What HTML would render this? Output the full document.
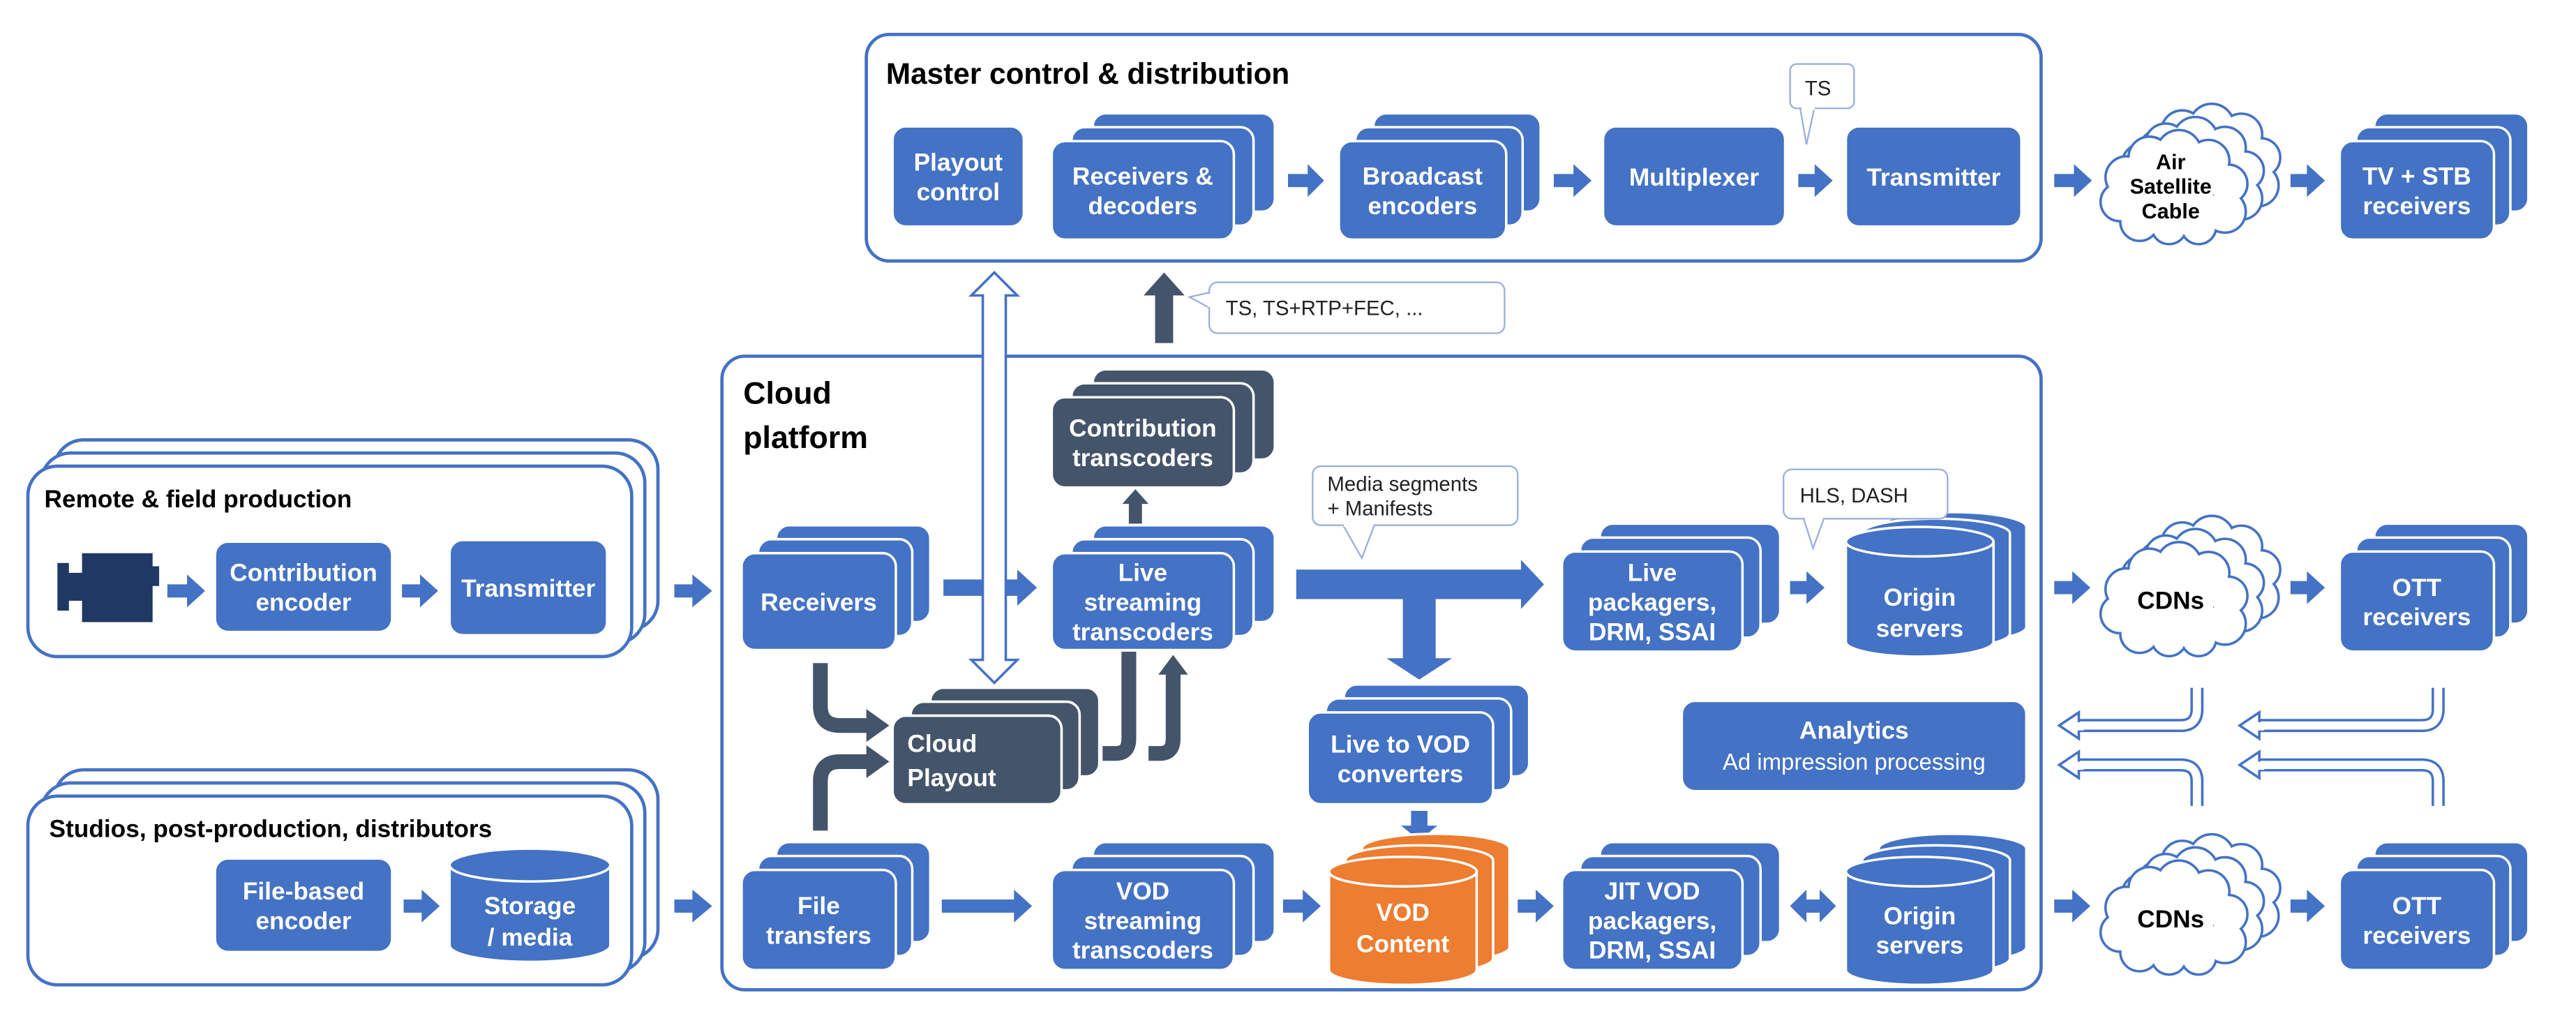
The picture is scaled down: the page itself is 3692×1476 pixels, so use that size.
<!DOCTYPE html>
<html><head><meta charset="utf-8"><style>
html,body{margin:0;padding:0;background:#fff}
svg{display:block}
.t{fill:#fff;font-family:"Liberation Sans",Arial,sans-serif;font-weight:bold;font-size:15px;text-anchor:middle}
.k{fill:#000;font-family:"Liberation Sans",Arial,sans-serif;font-weight:bold;text-anchor:middle}
.s{fill:#222;font-family:"Liberation Sans",Arial,sans-serif;font-size:12.5px}
.b{fill:#4472C4;stroke:#fff;stroke-width:1.5}
.d{fill:#44546A;stroke:#fff;stroke-width:1.5}
.o{fill:#ED7D31;stroke:#fff;stroke-width:1.5}
.a{fill:#4472C4}
.cb{fill:#fff;stroke:#9DB0D8;stroke-width:1}
</style></head><body>
<svg width="3692" height="1476" viewBox="0 0 1570 627.5" preserveAspectRatio="none" xmlns="http://www.w3.org/2000/svg">
<defs>
<g id="cl">
<g fill="#fff" stroke="#4472C4" stroke-width="3">
<circle cx="16" cy="26" r="12"/><circle cx="30" cy="14" r="12"/><circle cx="48" cy="11" r="13"/><circle cx="66" cy="16" r="12"/><circle cx="78" cy="30" r="11"/><circle cx="76" cy="47" r="12"/><circle cx="60" cy="56" r="10"/><circle cx="42" cy="56" r="10"/><circle cx="24" cy="53" r="11"/><circle cx="12" cy="41" r="11"/></g>
<g fill="#fff"><circle cx="16" cy="26" r="12"/><circle cx="30" cy="14" r="12"/><circle cx="48" cy="11" r="13"/><circle cx="66" cy="16" r="12"/><circle cx="78" cy="30" r="11"/><circle cx="76" cy="47" r="12"/><circle cx="60" cy="56" r="10"/><circle cx="42" cy="56" r="10"/><circle cx="24" cy="53" r="11"/><circle cx="12" cy="41" r="11"/><circle cx="45" cy="34" r="24"/></g>
</g>
</defs>

<!-- Master control box -->
<rect x="528" y="21" width="716" height="138" rx="14" fill="#fff" stroke="#4472C4" stroke-width="2"/>
<text x="540" y="51" style="font-family:'Liberation Sans',Arial,sans-serif;font-weight:bold;font-size:18px">Master control &amp; distribution</text>

<rect x="544" y="77" width="80" height="61" rx="8" class="b"/>
<text class="t" x="584" y="104">Playout</text><text class="t" x="584" y="122">control</text>

<rect x="666" y="69" width="111" height="60" rx="8" class="b"/><rect x="653" y="77.5" width="111" height="60" rx="8" class="b"/><rect x="641" y="86" width="111" height="60" rx="8" class="b"/>
<text class="t" x="696.5" y="112.5">Receivers &amp;</text><text class="t" x="696.5" y="130.5">decoders</text>

<rect x="837" y="69" width="102" height="60" rx="8" class="b"/><rect x="826" y="77.5" width="102" height="60" rx="8" class="b"/><rect x="816" y="86" width="102" height="60" rx="8" class="b"/>
<text class="t" x="867" y="112.5">Broadcast</text><text class="t" x="867" y="130.5">encoders</text>

<rect x="977" y="77" width="111" height="61" rx="8" class="b"/>
<text class="t" x="1032.5" y="113">Multiplexer</text>
<rect x="1125" y="77" width="107" height="61" rx="8" class="b"/>
<text class="t" x="1178.5" y="113">Transmitter</text>

<rect x="1447" y="69" width="94" height="60" rx="8" class="b"/><rect x="1436" y="77.5" width="94" height="60" rx="8" class="b"/><rect x="1426" y="86" width="94" height="60" rx="8" class="b"/>
<text class="t" x="1473" y="112.5">TV + STB</text><text class="t" x="1473" y="130.5">receivers</text>

<!-- Air cloud -->
<use href="#cl" x="1300" y="66"/><use href="#cl" x="1290" y="74"/><use href="#cl" x="1280" y="82"/>
<text class="k" font-size="13" x="1323" y="103">Air</text><text class="k" font-size="13" x="1323" y="118">Satellite</text><text class="k" font-size="13" x="1323" y="133">Cable</text>

<!-- master arrows -->
<polygon class="a" points="785,106 797,106 797,100 807,110 797,120 797,114 785,114"/>
<polygon class="a" points="947,106 959,106 959,100 970,110 959,120 959,114 947,114"/>
<polygon class="a" points="1096,106 1106,106 1106,100 1117,110 1106,120 1106,114 1096,114"/>
<polygon class="a" points="1252,106 1264,106 1264,100 1275,110 1264,120 1264,114 1252,114"/>
<polygon class="a" points="1396,106 1406,106 1406,100 1417,110 1406,120 1406,114 1396,114"/>

<!-- TS callout -->
<polygon class="cb" points="1097,65 1106,65 1101,88"/>
<rect x="1091" y="39" width="39" height="27" rx="4" class="cb"/>
<rect x="1098" y="64" width="8" height="3" fill="#fff"/>
<text class="s" x="1100" y="58" font-size="13">TS</text>

<!-- TS,TS+RTP callout -->
<polygon class="cb" points="738,178 725,181 738,188"/>
<rect x="737" y="172" width="180" height="31" rx="5" class="cb"/>
<rect x="736" y="179" width="3" height="8" fill="#fff"/>
<text class="s" x="747" y="192" font-size="13">TS, TS+RTP+FEC, ...</text>

<!-- dark up arrow -->
<polygon fill="#44546A" points="704,209 704,180 697,180 709.5,166 722,180 715,180 715,209"/>

<!-- Cloud platform -->
<rect x="440" y="217" width="804" height="386" rx="14" fill="#fff" stroke="#4472C4" stroke-width="2"/>
<text x="453" y="246" style="font-family:'Liberation Sans',Arial,sans-serif;font-weight:bold;font-size:19px">Cloud</text>
<text x="453" y="273" style="font-family:'Liberation Sans',Arial,sans-serif;font-weight:bold;font-size:19px">platform</text>

<!-- Remote box -->
<rect x="33" y="268" width="368" height="116" rx="18" fill="#fff" stroke="#4472C4" stroke-width="2"/>
<rect x="25" y="276" width="368" height="116" rx="18" fill="#fff" stroke="#4472C4" stroke-width="2"/>
<rect x="17" y="284" width="368" height="116" rx="18" fill="#fff" stroke="#4472C4" stroke-width="2"/>
<text x="27" y="309" style="font-family:'Liberation Sans',Arial,sans-serif;font-weight:bold;font-size:15px">Remote &amp; field production</text>
<polygon fill="#1F3864" points="35,343 42,343 42,349 50,349 50,337 93,337 93,345 97,345 97,357 93,357 93,379 50,379 50,366 42,366 42,372 35,372"/>
<polygon class="a" points="102,356 114,356 114,350 125,360 114,370 114,364 102,364"/>
<rect x="131" y="330" width="108" height="55" rx="8" class="b"/>
<text class="t" x="185" y="354">Contribution</text><text class="t" x="185" y="372">encoder</text>
<polygon class="a" points="245,356 256,356 256,350 267,360 256,370 256,364 245,364"/>
<rect x="274" y="329" width="96" height="58" rx="8" class="b"/>
<text class="t" x="322" y="363.5">Transmitter</text>
<polygon class="a" points="411,356 422,356 422,350 434,360 422,370 422,364 411,364"/>

<!-- Studios box -->
<rect x="33" y="469" width="368" height="115" rx="18" fill="#fff" stroke="#4472C4" stroke-width="2"/>
<rect x="25" y="477" width="368" height="115" rx="18" fill="#fff" stroke="#4472C4" stroke-width="2"/>
<rect x="17" y="485" width="368" height="115" rx="18" fill="#fff" stroke="#4472C4" stroke-width="2"/>
<text x="30" y="510" style="font-family:'Liberation Sans',Arial,sans-serif;font-weight:bold;font-size:15px">Studios, post-production, distributors</text>
<rect x="131" y="523" width="108" height="57" rx="8" class="b"/>
<text class="t" x="185" y="548">File-based</text><text class="t" x="185" y="566">encoder</text>
<polygon class="a" points="246,548 257,548 257,542 268,552 257,562 257,556 246,556"/>
<path d="M274,527 A49,10 0 0 1 372,527 V576 A49,10 0 0 1 274,576 Z" class="b"/>
<path d="M274,527 A49,10 0 0 0 372,527" fill="none" stroke="#fff" stroke-width="1.5"/>
<text class="t" x="323" y="557">Storage</text><text class="t" x="323" y="576">/ media</text>
<polygon class="a" points="411,548 422,548 422,542 434,552 422,562 422,556 411,556"/>

<!-- Contribution transcoders -->
<rect x="666" y="225" width="111" height="55" rx="8" class="d"/><rect x="653" y="233.5" width="111" height="55" rx="8" class="d"/><rect x="641" y="242" width="111" height="55" rx="8" class="d"/>
<text class="t" x="696.5" y="266">Contribution</text><text class="t" x="696.5" y="284">transcoders</text>
<polygon fill="#44546A" points="688,319 688,307 684,307 692,298 700,307 696,307 696,319"/>

<!-- Receivers -->
<rect x="473" y="320" width="94" height="59" rx="8" class="b"/><rect x="462" y="328.5" width="94" height="59" rx="8" class="b"/><rect x="452" y="337" width="94" height="59" rx="8" class="b"/>
<text class="t" x="499" y="372">Receivers</text>
<polygon class="a" points="575,353 620,353 620,347 632,358 620,369 620,363 575,363"/>

<!-- Live streaming transcoders -->
<rect x="666" y="320" width="111" height="59" rx="8" class="b"/><rect x="653" y="328.5" width="111" height="59" rx="8" class="b"/><rect x="641" y="337" width="111" height="59" rx="8" class="b"/>
<text class="t" x="696.5" y="354">Live</text><text class="t" x="696.5" y="372">streaming</text><text class="t" x="696.5" y="390">transcoders</text>

<!-- Cloud Playout -->
<rect x="567" y="419" width="103" height="54" rx="8" class="d"/><rect x="555" y="427.5" width="103" height="54" rx="8" class="d"/><rect x="544" y="436" width="103" height="54" rx="8" class="d"/>
<text class="t" x="553" y="458" style="text-anchor:start">Cloud</text><text class="t" x="553" y="479" style="text-anchor:start">Playout</text>

<!-- dark elbow arrows -->
<path d="M500,404 V430 Q500,442 512,442 H530" fill="none" stroke="#44546A" stroke-width="9"/>
<polygon fill="#44546A" points="528,432 542,442 528,452"/>
<path d="M500,506 V476 Q500,464 512,464 H530" fill="none" stroke="#44546A" stroke-width="9"/>
<polygon fill="#44546A" points="528,454 542,464 528,474"/>
<path d="M672,459 H680 Q688,459 688,450 V397" fill="none" stroke="#44546A" stroke-width="9"/>
<path d="M700,459 H707 Q715,459 715,450 V410" fill="none" stroke="#44546A" stroke-width="9"/>
<polygon fill="#44546A" points="706,411 724,411 715,399"/>

<!-- hollow double arrow -->
<polygon fill="#fff" stroke="#4472C4" stroke-width="1.5" points="606,166 620,180 613,180 613,402 620,402 606,416 592,402 599,402 599,180 592,180"/>

<!-- File transfers -->
<rect x="473" y="513" width="94" height="61" rx="8" class="b"/><rect x="462" y="521.5" width="94" height="61" rx="8" class="b"/><rect x="452" y="530" width="94" height="61" rx="8" class="b"/>
<text class="t" x="499" y="557">File</text><text class="t" x="499" y="575">transfers</text>
<polygon class="a" points="574,548 618,548 618,542 629,552 618,562 618,556 574,556"/>

<!-- VOD streaming -->
<rect x="666" y="513" width="111" height="61" rx="8" class="b"/><rect x="653" y="521.5" width="111" height="61" rx="8" class="b"/><rect x="641" y="530" width="111" height="61" rx="8" class="b"/>
<text class="t" x="696.5" y="548">VOD</text><text class="t" x="696.5" y="566">streaming</text><text class="t" x="696.5" y="584">transcoders</text>
<polygon class="a" points="782,548 794,548 794,542 805,552 794,562 794,556 782,556"/>

<!-- Media segments callout -->
<polygon class="cb" points="818,319 838,319 830,340"/>
<rect x="800" y="284" width="125" height="36" rx="5" class="cb"/>
<rect x="819" y="318" width="18" height="3" fill="#fff"/>
<text class="s" x="809" y="299" font-size="11.5">Media segments</text>
<text class="s" x="809" y="314" font-size="11.5">+ Manifests</text>

<!-- big arrow -->
<polygon class="a" points="790,347 927,347 927,341 941,356 927,371 927,365 790,365"/>
<polygon class="a" points="855,365 875,365 875,401 885,401 865,414 845,401 855,401"/>

<!-- Live to VOD -->
<rect x="819" y="417" width="113" height="56" rx="8" class="b"/><rect x="808" y="425.5" width="113" height="56" rx="8" class="b"/><rect x="797" y="434" width="113" height="56" rx="8" class="b"/>
<text class="t" x="853.5" y="458.5">Live to VOD</text><text class="t" x="853.5" y="476.5">converters</text>
<polygon class="a" points="860,494 870,494 870,503 876,503 865,512 854,503 860,503"/>

<!-- VOD Content cylinders -->
<path d="M830,517 A45,9 0 0 1 920,517 V577 A45,9 0 0 1 830,577 Z" class="o"/>
<path d="M820,524 A45,9 0 0 1 910,524 V584 A45,9 0 0 1 820,584 Z" class="o"/>
<path d="M810,531 A45,9 0 0 1 900,531 V591 A45,9 0 0 1 810,591 Z" class="o"/>
<path d="M810,531 A45,9 0 0 0 900,531" fill="none" stroke="#fff" stroke-width="1.5"/>
<text class="t" x="855" y="561">VOD</text><text class="t" x="855" y="580">Content</text>
<polygon class="a" points="925,548 936,548 936,542 947,552 936,562 936,556 925,556"/>

<!-- Live packagers -->
<rect x="975" y="319" width="110" height="61" rx="8" class="b"/><rect x="963" y="327.5" width="110" height="61" rx="8" class="b"/><rect x="952" y="336" width="110" height="61" rx="8" class="b"/>
<text class="t" x="1007" y="354">Live</text><text class="t" x="1007" y="372">packagers,</text><text class="t" x="1007" y="390">DRM, SSAI</text>
<polygon class="a" points="1091,354 1101,354 1101,348 1112,358 1101,368 1101,362 1091,362"/>

<!-- JIT VOD -->
<rect x="975" y="513" width="110" height="61" rx="8" class="b"/><rect x="963" y="521.5" width="110" height="61" rx="8" class="b"/><rect x="952" y="530" width="110" height="61" rx="8" class="b"/>
<text class="t" x="1007" y="548">JIT VOD</text><text class="t" x="1007" y="566">packagers,</text><text class="t" x="1007" y="584">DRM, SSAI</text>
<polygon class="a" points="1091,552 1101,542 1101,548 1109,548 1109,542 1119,552 1109,562 1109,556 1101,556 1101,562"/>

<!-- Origin servers top -->
<path d="M1145,321 A45,9 0 0 1 1235,321 V382 A45,9 0 0 1 1145,382 Z" class="b"/>
<path d="M1135,325 A45,9 0 0 1 1225,325 V386 A45,9 0 0 1 1135,386 Z" class="b"/>
<path d="M1125,330 A45,9 0 0 1 1215,330 V391 A45,9 0 0 1 1125,391 Z" class="b"/>
<path d="M1125,330 A45,9 0 0 0 1215,330" fill="none" stroke="#fff" stroke-width="1.5"/>
<text class="t" x="1170" y="369">Origin</text><text class="t" x="1170" y="388">servers</text>

<!-- Origin servers bottom -->
<path d="M1145,517 A45,9 0 0 1 1235,517 V577 A45,9 0 0 1 1145,577 Z" class="b"/>
<path d="M1135,524 A45,9 0 0 1 1225,524 V584 A45,9 0 0 1 1135,584 Z" class="b"/>
<path d="M1125,531 A45,9 0 0 1 1215,531 V591 A45,9 0 0 1 1125,591 Z" class="b"/>
<path d="M1125,531 A45,9 0 0 0 1215,531" fill="none" stroke="#fff" stroke-width="1.5"/>
<text class="t" x="1170" y="563">Origin</text><text class="t" x="1170" y="581">servers</text>

<!-- HLS DASH callout -->
<polygon class="cb" points="1099,315 1112,315 1105,334"/>
<rect x="1087" y="286" width="100" height="30" rx="5" class="cb"/>
<rect x="1100" y="314" width="11" height="3" fill="#fff"/>
<text class="s" x="1097" y="306" font-size="13">HLS, DASH</text>

<!-- Analytics -->
<rect x="1025" y="427" width="210" height="55" rx="8" class="b"/>
<text class="t" x="1130" y="450">Analytics</text>
<text class="t" x="1130" y="469" style="font-weight:normal;font-size:14px">Ad impression processing</text>

<!-- right side -->
<polygon class="a" points="1252,354 1263,354 1263,348 1274,358 1263,368 1263,362 1252,362"/>
<polygon class="a" points="1396,354 1406,354 1406,348 1417,358 1406,368 1406,362 1396,362"/>
<polygon class="a" points="1252,548 1263,548 1263,542 1274,552 1263,562 1263,556 1252,556"/>
<polygon class="a" points="1396,548 1406,548 1406,542 1417,552 1406,562 1406,556 1396,556"/>

<use href="#cl" x="1300" y="317"/><use href="#cl" x="1290" y="325"/><use href="#cl" x="1280" y="333"/>
<text class="k" font-size="15" x="1323" y="371">CDNs</text>
<use href="#cl" x="1300" y="511"/><use href="#cl" x="1290" y="519"/><use href="#cl" x="1280" y="527"/>
<text class="k" font-size="15" x="1323" y="565">CDNs</text>

<rect x="1447" y="319" width="94" height="61" rx="8" class="b"/><rect x="1436" y="327.5" width="94" height="61" rx="8" class="b"/><rect x="1426" y="336" width="94" height="61" rx="8" class="b"/>
<text class="t" x="1473" y="363">OTT</text><text class="t" x="1473" y="381">receivers</text>
<rect x="1447" y="513" width="94" height="61" rx="8" class="b"/><rect x="1436" y="521.5" width="94" height="61" rx="8" class="b"/><rect x="1426" y="530" width="94" height="61" rx="8" class="b"/>
<text class="t" x="1473" y="557">OTT</text><text class="t" x="1473" y="575">receivers</text>

<!-- hollow fork arrows -->
<g fill="none" stroke="#4472C4" stroke-width="8">
<path d="M1339,419 V432 Q1339,442 1329,442 H1266"/><path d="M1339,491 V476 Q1339,466 1329,466 H1266"/>
<path d="M1486,419 V432 Q1486,442 1476,442 H1376"/><path d="M1486,491 V476 Q1486,466 1476,466 H1376"/>
</g>
<g fill="none" stroke="#fff" stroke-width="5">
<path d="M1339,418 V432 Q1339,442 1329,442 H1264"/><path d="M1339,492 V476 Q1339,466 1329,466 H1264"/>
<path d="M1486,418 V432 Q1486,442 1476,442 H1374"/><path d="M1486,492 V476 Q1486,466 1476,466 H1374"/>
</g>
<g fill="#fff" stroke="#4472C4" stroke-width="1.5">
<polygon points="1267,434 1255,442 1267,450"/><polygon points="1267,458 1255,466 1267,474"/>
<polygon points="1377,434 1365,442 1377,450"/><polygon points="1377,458 1365,466 1377,474"/>
</g>
<g fill="#fff"><rect x="1265" y="440" width="5" height="5"/><rect x="1265" y="464" width="5" height="5"/><rect x="1375" y="440" width="5" height="5"/><rect x="1375" y="464" width="5" height="5"/></g>
</svg>
</body></html>
